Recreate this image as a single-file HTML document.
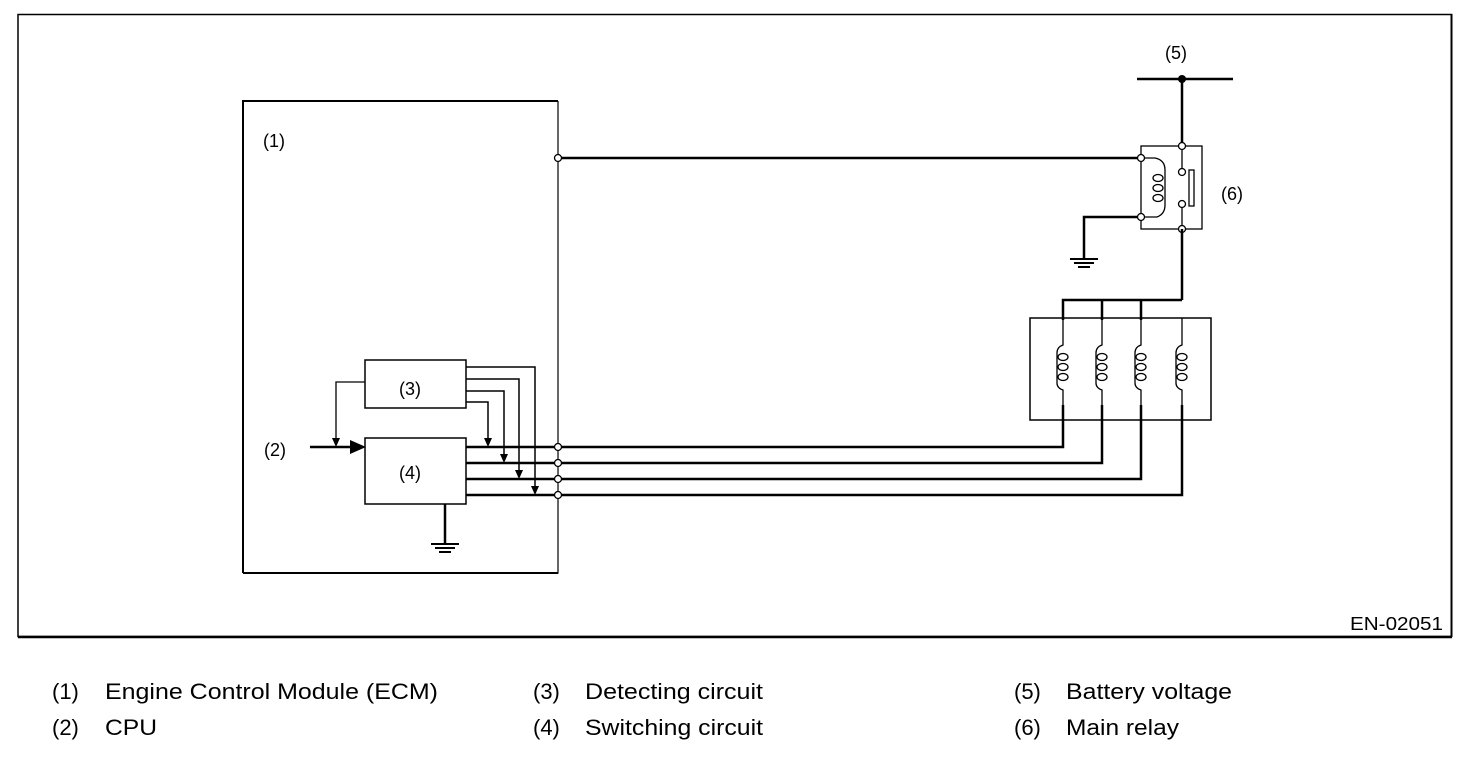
<!DOCTYPE html>
<html><head><style>
html,body{margin:0;padding:0;background:#fff;}
svg{display:block;}
text{font-family:"Liberation Sans",Arial,sans-serif;fill:#000;}
</style></head><body>
<svg width="1472" height="758" viewBox="0 0 1472 758" xmlns="http://www.w3.org/2000/svg">
<rect x="18" y="14.5" width="1433.5" height="622" fill="none" stroke="#000" stroke-width="1.5"/>
<line x1="18" y1="637" x2="1452" y2="637" stroke="#000" stroke-width="2.5"/>
<line x1="1451.5" y1="14" x2="1451.5" y2="637" stroke="#000" stroke-width="2"/>
<text x="1350" y="630" font-size="18" textLength="93" lengthAdjust="spacingAndGlyphs">EN-02051</text>

<!-- ECM -->
<path d="M243,573 V101 H558" fill="none" stroke="#000" stroke-width="2"/>
<path d="M558,101 V573 H243" fill="none" stroke="#000" stroke-width="1.2"/>
<line x1="243" y1="573" x2="558" y2="573" stroke="#000" stroke-width="2"/>
<text x="263" y="147" font-size="18">(1)</text>

<line x1="558" y1="158" x2="1141" y2="158" stroke="#000" stroke-width="2.5"/>

<rect x="365" y="360" width="101" height="48" fill="none" stroke="#000" stroke-width="1.5"/>
<text x="399" y="395" font-size="18">(3)</text>
<rect x="365" y="438" width="101" height="66" fill="none" stroke="#000" stroke-width="1.5"/>
<text x="399" y="479" font-size="18">(4)</text>
<text x="264" y="456" font-size="18">(2)</text>
<line x1="310" y1="447" x2="352" y2="447" stroke="#000" stroke-width="2.5"/>
<path d="M350,440 L366,447 L350,454 z" fill="#000"/>
<path d="M365,382 H336 V440" fill="none" stroke="#000" stroke-width="1.3"/>
<path d="M332,438 L340,438 L336,447 z" fill="#000"/>

<g fill="none" stroke="#000" stroke-width="1.5">
<path d="M466,367 H535 V488"/>
<path d="M466,379 H519 V472"/>
<path d="M466,391 H504 V456"/>
<path d="M466,402 H488 V440"/>
</g>
<g fill="#000">
<path d="M531,486 L539,486 L535,495 z"/>
<path d="M515,470 L523,470 L519,479 z"/>
<path d="M500,454 L508,454 L504,463 z"/>
<path d="M484,438 L492,438 L488,447 z"/>
</g>
<g fill="none" stroke="#000" stroke-width="2.5">
<path d="M466,447 H1063 V405"/>
<path d="M466,463 H1102 V405"/>
<path d="M466,479 H1141 V405"/>
<path d="M466,495 H1182 V405"/>
</g>
<line x1="445" y1="504" x2="445" y2="543" stroke="#000" stroke-width="2.5"/>
<line x1="431" y1="544" x2="459" y2="544" stroke="#000" stroke-width="2"/>
<line x1="435" y1="548" x2="455" y2="548" stroke="#000" stroke-width="2"/>
<line x1="439" y1="552" x2="451" y2="552" stroke="#000" stroke-width="2"/>

<g fill="#fff" stroke="#000" stroke-width="1.3">
<circle cx="558" cy="158" r="3.5"/>
<circle cx="558" cy="447" r="3.5"/><circle cx="558" cy="463" r="3.5"/>
<circle cx="558" cy="479" r="3.5"/><circle cx="558" cy="495" r="3.5"/>
</g>

<text x="1165" y="59" font-size="18">(5)</text>
<line x1="1137" y1="79" x2="1233" y2="79" stroke="#000" stroke-width="2.5"/>
<circle cx="1182" cy="79" r="4" fill="#000"/>
<line x1="1182" y1="79" x2="1182" y2="146" stroke="#000" stroke-width="2.5"/>

<rect x="1141" y="146" width="61" height="83" fill="none" stroke="#000" stroke-width="1.3"/>
<text x="1221" y="200" font-size="18">(6)</text>
<path d="M1141,158 H1155 Q1165,160 1165,170 V205 Q1165,214 1157,217 H1141" fill="none" stroke="#000" stroke-width="1.3"/>
<g fill="none" stroke="#000" stroke-width="1.3">
<ellipse cx="1158" cy="178" rx="5" ry="3.5"/><ellipse cx="1158" cy="188" rx="5" ry="3.5"/><ellipse cx="1158" cy="198" rx="5" ry="3.5"/>
</g>
<rect x="1189" y="170" width="5" height="36" fill="none" stroke="#000" stroke-width="1.3"/>
<line x1="1182" y1="146" x2="1182" y2="172" stroke="#000" stroke-width="1.3"/>
<line x1="1182" y1="204" x2="1182" y2="229" stroke="#000" stroke-width="1.3"/>
<path d="M1141,217 H1084 V258" fill="none" stroke="#000" stroke-width="2.5"/>
<line x1="1070" y1="259" x2="1098" y2="259" stroke="#000" stroke-width="2"/>
<line x1="1074" y1="263" x2="1094" y2="263" stroke="#000" stroke-width="2"/>
<line x1="1078" y1="267" x2="1090" y2="267" stroke="#000" stroke-width="2"/>
<g fill="#fff" stroke="#000" stroke-width="1.3">
<circle cx="1141" cy="158" r="3.5"/><circle cx="1141" cy="217" r="3.5"/>
<circle cx="1182" cy="146" r="3.5"/><circle cx="1182" cy="172" r="3.5"/>
<circle cx="1182" cy="204" r="3.5"/><circle cx="1182" cy="229" r="3.5"/>
</g>

<path d="M1182,229 V300 M1063,320 V300 H1182 M1102,300 V320 M1141,300 V320" fill="none" stroke="#000" stroke-width="2.5"/>
<rect x="1030" y="318" width="181" height="102" fill="none" stroke="#000" stroke-width="1.5"/>
<g fill="none" stroke="#000" stroke-width="1.3">
<path d="M1063,318 V345 Q1057,347 1057,353 V383 Q1057,388 1063,390 V420"/>
<path d="M1102,318 V345 Q1096,347 1096,353 V383 Q1096,388 1102,390 V420"/>
<path d="M1141,318 V345 Q1135,347 1135,353 V383 Q1135,388 1141,390 V420"/>
<path d="M1182,318 V345 Q1176,347 1176,353 V383 Q1176,388 1182,390 V420"/>
<ellipse cx="1063" cy="357" rx="5" ry="3.5"/><ellipse cx="1063" cy="367" rx="5" ry="3.5"/><ellipse cx="1063" cy="377" rx="5" ry="3.5"/>
<ellipse cx="1102" cy="357" rx="5" ry="3.5"/><ellipse cx="1102" cy="367" rx="5" ry="3.5"/><ellipse cx="1102" cy="377" rx="5" ry="3.5"/>
<ellipse cx="1141" cy="357" rx="5" ry="3.5"/><ellipse cx="1141" cy="367" rx="5" ry="3.5"/><ellipse cx="1141" cy="377" rx="5" ry="3.5"/>
<ellipse cx="1182" cy="357" rx="5" ry="3.5"/><ellipse cx="1182" cy="367" rx="5" ry="3.5"/><ellipse cx="1182" cy="377" rx="5" ry="3.5"/>
</g>

<g font-size="22">
<text x="52" y="699">(1)</text><text x="105" y="699" textLength="333" lengthAdjust="spacingAndGlyphs">Engine Control Module (ECM)</text>
<text x="52" y="735">(2)</text><text x="105" y="735" textLength="52" lengthAdjust="spacingAndGlyphs">CPU</text>
<text x="533" y="699">(3)</text><text x="585" y="699" textLength="178" lengthAdjust="spacingAndGlyphs">Detecting circuit</text>
<text x="533" y="735">(4)</text><text x="585" y="735" textLength="178" lengthAdjust="spacingAndGlyphs">Switching circuit</text>
<text x="1014" y="699">(5)</text><text x="1066" y="699" textLength="166" lengthAdjust="spacingAndGlyphs">Battery voltage</text>
<text x="1014" y="735">(6)</text><text x="1066" y="735" textLength="113" lengthAdjust="spacingAndGlyphs">Main relay</text>
</g>
</svg>
</body></html>
